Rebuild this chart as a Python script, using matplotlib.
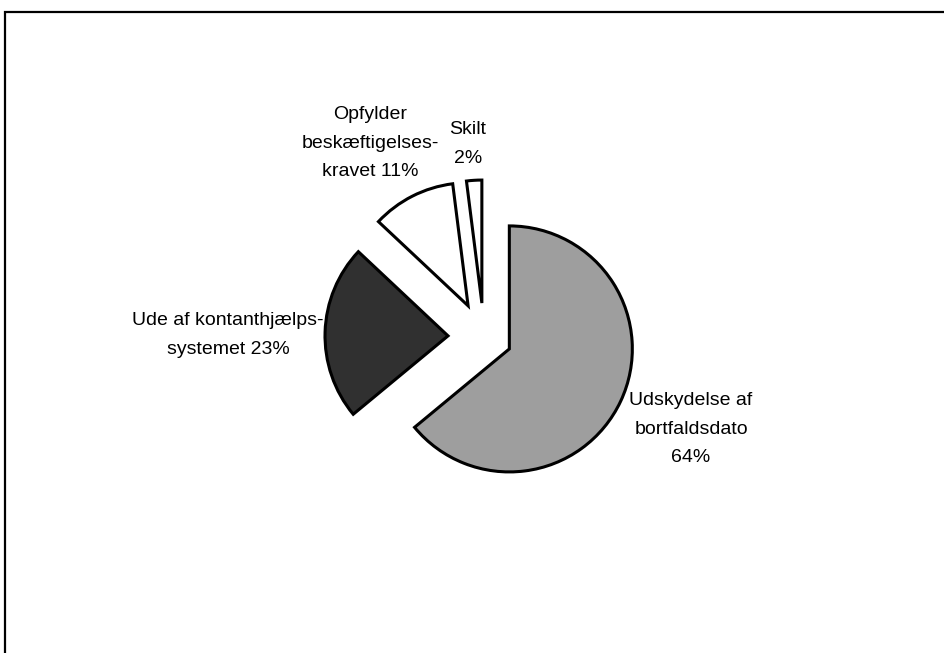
import matplotlib.pyplot as plt
from matplotlib.patches import Rectangle

plt.rcParams['font.family'] = ['Liberation Sans', 'DejaVu Sans']

# data
labels = ['Udskydelse af\nbortfaldsdato\n64%',
          'Ude af kontanthjælps-\nsystemet 23%',
          'Opfylder\nbeskæftigelses-\nkravet 11%',
          'Skilt\n2%']
shares = [64, 23, 11, 2]
colors = ['#9e9e9e', '#303030', 'white', 'white']
explode = [28, 36, 35, 34]  # offsets in pixels

# label positions in pixels (x, y from top)
label_pos = [(691, 429), (228, 335), (370, 143), (468, 144)]

W, H = 944, 653
fig = plt.figure(figsize=(W / 100, H / 100), dpi=100)
ax = fig.add_axes([0, 0, 1, 1])

ax.pie(shares, explode=explode, colors=colors, startangle=90,
       counterclock=False, center=(484, H - 337), radius=123,
       wedgeprops=dict(edgecolor='black', linewidth=2.2))

for lab, (x, y) in zip(labels, label_pos):
    ax.text(x, H - y, lab, ha='center', va='center', fontsize=14,
            linespacing=1.9, color='black')

# frame around the chart
ax.add_patch(Rectangle((5, -20), W + 20, H - 12 + 20, fill=False,
                       edgecolor='black', linewidth=1.6))

ax.set_xlim(0, W)
ax.set_ylim(0, H)
ax.set_aspect('equal')
ax.axis('off')

fig.savefig('out.png', dpi=100)
